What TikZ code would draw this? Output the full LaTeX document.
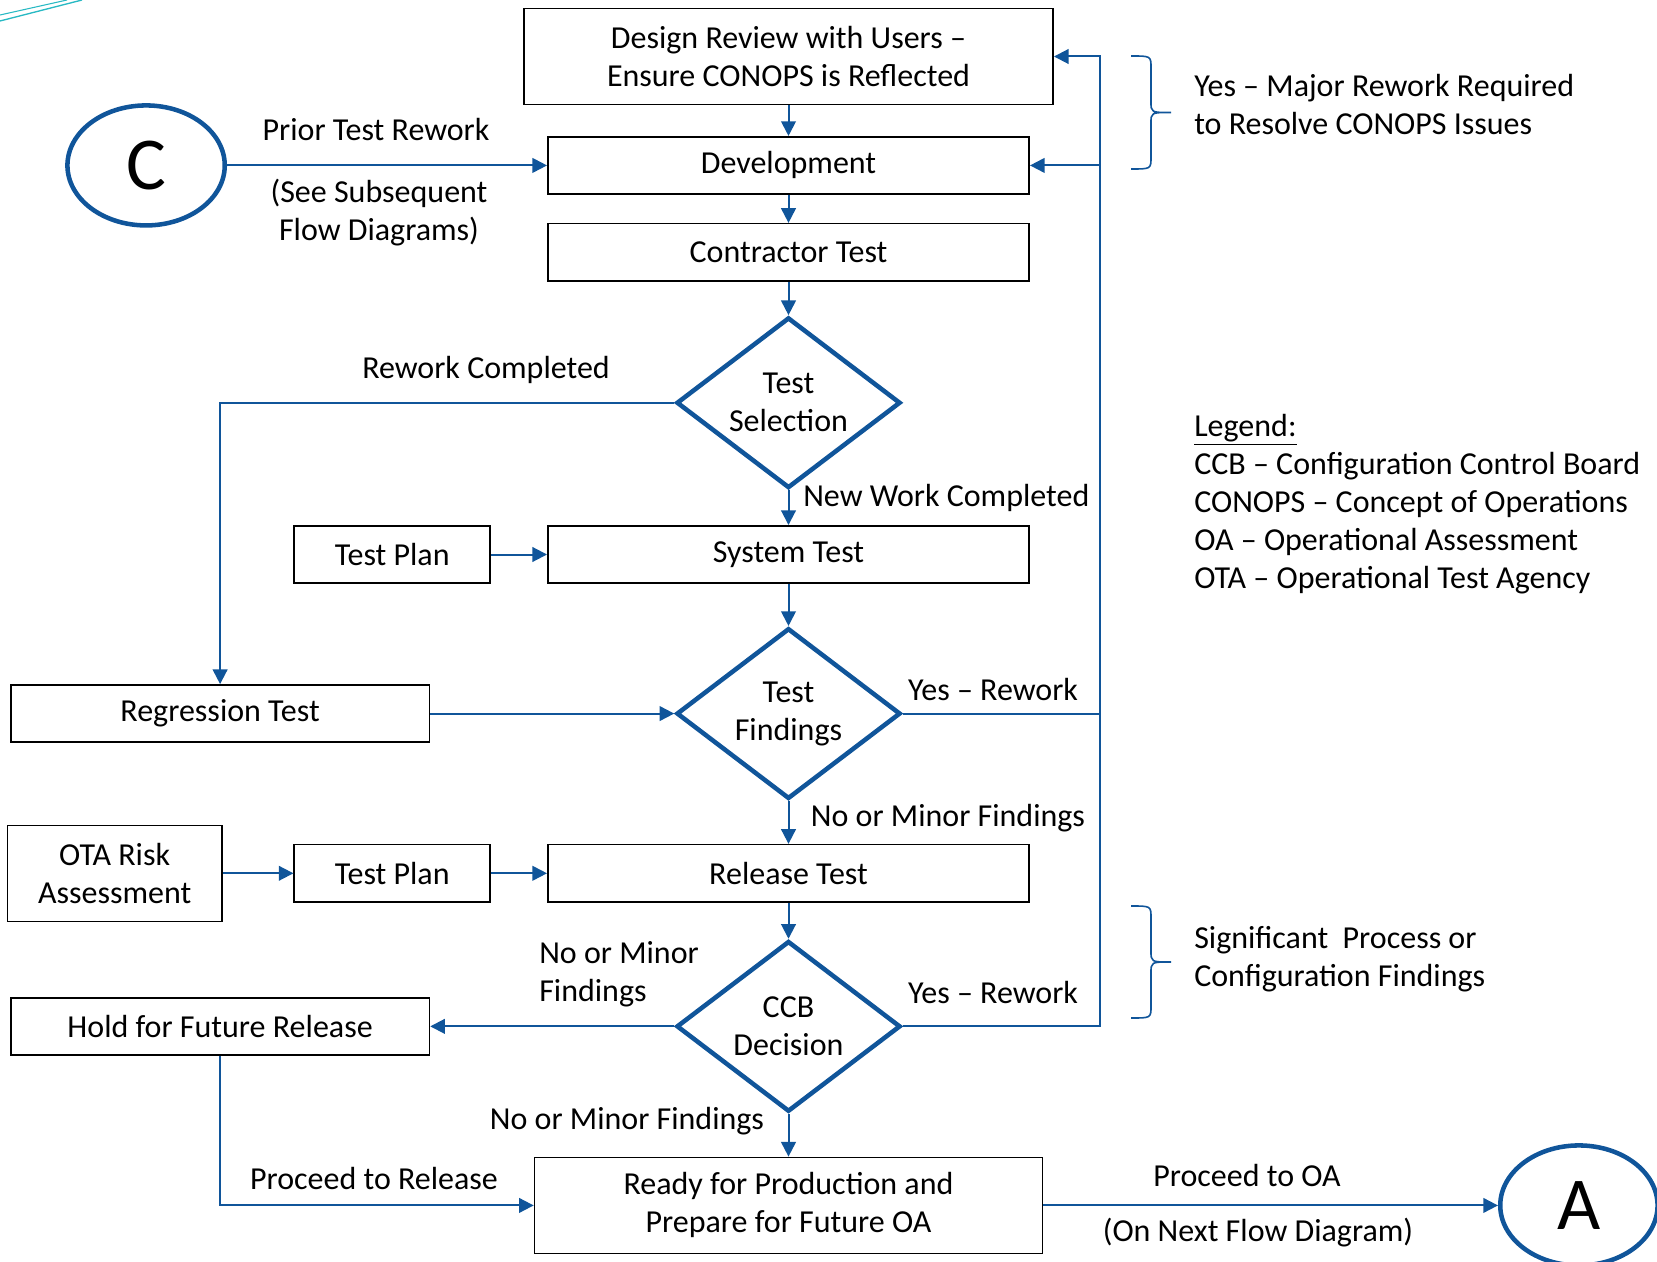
\documentclass[tikz,border=0pt]{standalone}
\usepackage{fontspec}
\setmainfont{Carlito}
\usetikzlibrary{positioning, shapes.geometric, arrows.meta}
\definecolor{flowblue}{RGB}{16,85,154}
\definecolor{deco}{RGB}{40,185,195}

\begin{document}
\begin{tikzpicture}[x=0.75pt, y=-0.75pt, >={Triangle[length=11pt,width=11pt]},
    font=\fontsize{24}{28.5}\selectfont,
    box/.style = {draw, line width=1.2pt, align=center, inner sep=0pt},
    wide/.style = {box, minimum width=361pt, minimum height=43pt},
    side/.style = {box, minimum width=314pt, minimum height=43pt},
    plan/.style = {box, minimum width=147pt, minimum height=43pt},
    decision/.style = {draw=flowblue, line width=3.4pt, diamond, aspect=1.35, align=center, inner sep=0pt, minimum width=168pt, minimum height=128pt},
    conn/.style = {draw=flowblue, line width=3.4pt, ellipse, minimum width=118pt, minimum height=90pt, font=\fontsize{56}{60}\selectfont},
    flow/.style = {draw=flowblue, line width=1.5pt},
    lbl/.style = {inner sep=0pt, align=center}]

    \useasboundingbox (0,0) rectangle (1657,1262);

    \node[box, minimum width=397pt, minimum height=72pt] (rev) at (788.5,56.5) {Design Review with Users –\\Ensure CONOPS is Reflected};
    \node[wide] (dev) [below=23pt of rev] {Development};
    \node[wide] (ct) [below=21pt of dev] {Contractor Test};
    \node[decision] (sel) [below=25pt of ct] {Test\\Selection};
    \node[wide] (sys) [below=26pt of sel] {System Test};
    \node[plan] (plan1) [left=42pt of sys] {Test Plan};
    \node[decision] (find) [below=31.5pt of sys] {Test\\Findings};
    \node[side] (reg) [left=183pt of find] {Regression Test};
    \node[wide] (rel) [below=32pt of find] {Release Test};
    \node[plan] (plan2) [left=42pt of rel] {Test Plan};
    \node[box, minimum width=161pt, minimum height=72pt] (ota) [left=53pt of plan2] {OTA Risk\\Assessment};
    \node[decision] (ccb) [below=27pt of rel] {CCB\\Decision};
    \node[side] (hold) [left=183pt of ccb] {Hold for Future Release};
    \node[box, minimum width=381pt, minimum height=72pt] (ready) [below=32pt of ccb] {Ready for Production and\\Prepare for Future OA};
    \node[conn] (C) [left=240pt of dev] {C};
    \node[conn] (A) [right=341pt of ready] {A};

    \draw[flow, ->] (rev) -- (dev);
    \draw[flow, ->] (dev) -- (ct);
    \draw[flow, ->] (ct) -- (sel);
    \draw[flow, ->] (sel) -- (sys);
    \draw[flow, ->] (plan1) -- (sys);
    \draw[flow, ->] (sys) -- (find);
    \draw[flow, ->] (reg) -- (find);
    \draw[flow, ->] (find) -- (rel);
    \draw[flow, ->] (ota) -- (plan2);
    \draw[flow, ->] (plan2) -- (rel);
    \draw[flow, ->] (rel) -- (ccb);
    \draw[flow, ->] (ccb) -- (hold);
    \draw[flow, ->] (ccb) -- (ready);
    \draw[flow, ->] (C) -- (dev);
    \draw[flow, ->] (ready) -- (A);
    \draw[flow, ->] (sel.west) -| (reg.north);
    \draw[flow, ->] (hold.south) |- (ready.west);

    % rework loop back up the right side
    \coordinate (back) at (1100,56.5);
    \draw[flow, ->] (ccb.east) -| (back) -- (rev.east);
    \draw[flow] (find.east) -- (find.east -| back);
    \draw[flow, ->] (dev.east -| back) -- (dev.east);

    % braces
    \draw[flowblue, line width=1.2pt] (1131,56) .. controls (1151,56) .. (1151,68) -- (1151,102) .. controls (1151,112.5) .. (1171,112.5) .. controls (1151,112.5) .. (1151,123) -- (1151,157) .. controls (1151,169) .. (1131,169);
    \draw[flowblue, line width=1.2pt] (1131,906) .. controls (1151,906) .. (1151,918) -- (1151,951) .. controls (1151,962) .. (1171,962) .. controls (1151,962) .. (1151,973) -- (1151,1006) .. controls (1151,1018) .. (1131,1018);

    \node[lbl] (prior) at (376,130) {Prior Test Rework};
    \node[lbl] (see) at (379,213) {(See Subsequent\\Flow Diagrams)};
    \node[lbl] (rwdone) at (486,370) {Rework Completed};
    \node[lbl, anchor=west] (newwork) at (803,498) {New Work Completed};
    \node[lbl] (yes1) at (993,690) {Yes – Rework};
    \node[lbl] (minor1) at (948,818) {No or Minor Findings};
    \node[lbl, anchor=west, align=left] (minor2) at (539,974) {No or Minor\\Findings};
    \node[lbl] (yes2) at (993,993) {Yes – Rework};
    \node[lbl] (minor3) at (627,1121) {No or Minor Findings};
    \node[lbl] (torel) at (374,1179) {Proceed to Release};
    \node[lbl] (tooa) at (1247,1176) {Proceed to OA};
    \node[lbl] (nextflow) at (1258,1233) {(On Next Flow Diagram)};
    \node[lbl, anchor=west, align=left] (major) at (1194,104.5) {Yes – Major Rework Required\\to Resolve CONOPS Issues};
    \node[lbl, anchor=west, align=left] (signif) at (1194,959) {Significant\ \ Process or\\Configuration Findings};
    \node[lbl, anchor=west, align=left] (legend) at (1194,504.5) {\underline{Legend:}\\CCB – Configuration Control Board\\CONOPS – Concept of Operations\\OA – Operational Assessment\\OTA – Operational Test Agency};

    % slide edge
    \draw[deco, line width=1pt] (0,21) -- (82,0);
    \draw[deco, line width=0.8pt] (0,15) -- (67,0);
\end{tikzpicture}
\end{document}
